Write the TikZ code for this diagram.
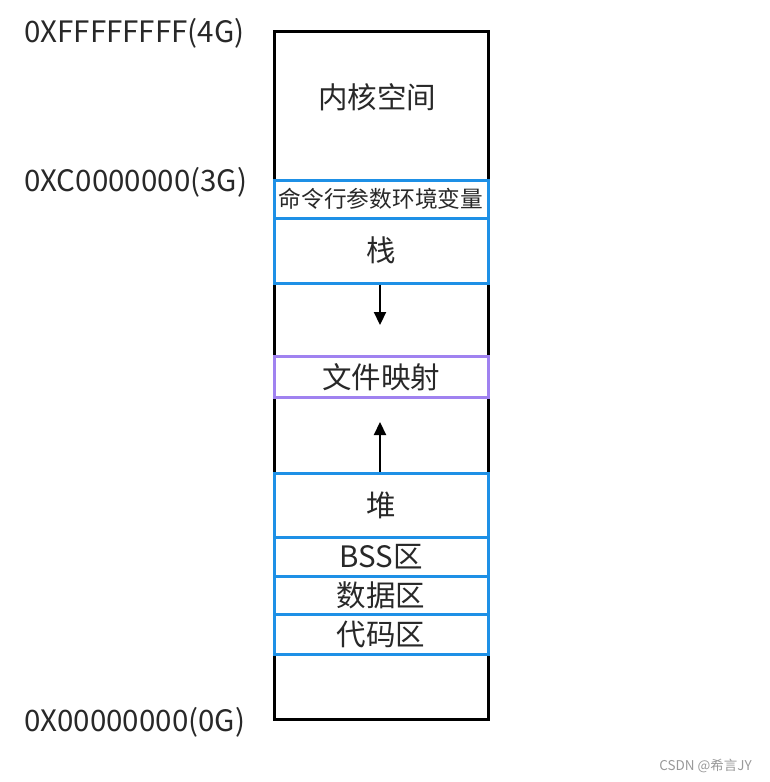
\documentclass[tikz,border=0pt]{standalone}
\usepackage{fontspec}
\setmainfont{Noto Sans CJK SC}
\usetikzlibrary{arrows.meta}
\definecolor{segblue}{RGB}{30,144,230}
\definecolor{segpurple}{RGB}{160,130,240}
\definecolor{txt}{RGB}{40,40,40}
\begin{document}
\begin{tikzpicture}[x=1pt,y=-1pt,
  seg/.style={draw=segblue,line width=3pt,minimum width=214pt,inner sep=0pt,text=txt,font=\fontsize{29.5}{29.5}\selectfont},
  addr/.style={anchor=west,inner sep=0pt,text=txt,font=\fontsize{29.5}{29.5}\selectfont},
  growarrow/.style={line width=2.2pt,-{Triangle[length=13pt,width=12pt]}}]
\useasboundingbox (0,0) rectangle (769,782);
\node[draw=black,line width=3pt,minimum width=214pt,minimum height=688pt,inner sep=0pt] (mem) at (381,375) {};
\node[text=txt,font=\fontsize{29.5}{29.5}\selectfont] (kernel) at (377,97) {内核空间};
\node[seg,minimum height=38pt,font=\fontsize{22.7}{22.7}\selectfont] (env) at (381,199) {命令行参数环境变量};
\node[seg,minimum height=65pt] (stack) at (381,250.5) {栈};
\node[seg,draw=segpurple,minimum height=41pt] (mmap) at (381,377) {文件映射};
\node[seg,minimum height=64pt] (heap) at (381,505) {堆};
\node[seg,minimum height=39pt] (bss) at (381,556.5) {\raisebox{-2pt}{BSS区}};
\node[seg,minimum height=38pt] (data) at (381,595) {\raisebox{-3pt}{数据区}};
\node[seg,minimum height=40pt] (text) at (381,634) {\raisebox{-2pt}{代码区}};
\coordinate (stackend) at (380,325);
\coordinate (heapend) at (380,422);
\draw[growarrow] (stack.south -| stackend) -- (stackend);
\draw[growarrow] (heap.north -| heapend) -- (heapend);
\node[addr] (a4g) at (24,33) {0XFFFFFFFF(4G)};
\node[addr] (a3g) at (24,182) {0XC0000000(3G)};
\node[addr] (a0g) at (24,722) {0X00000000(0G)};
\node[anchor=east,inner sep=0pt,text=gray!80,font=\fontsize{13.5}{13.5}\selectfont] (wm) at (752,766) {CSDN @希言JY};
\end{tikzpicture}
\end{document}
